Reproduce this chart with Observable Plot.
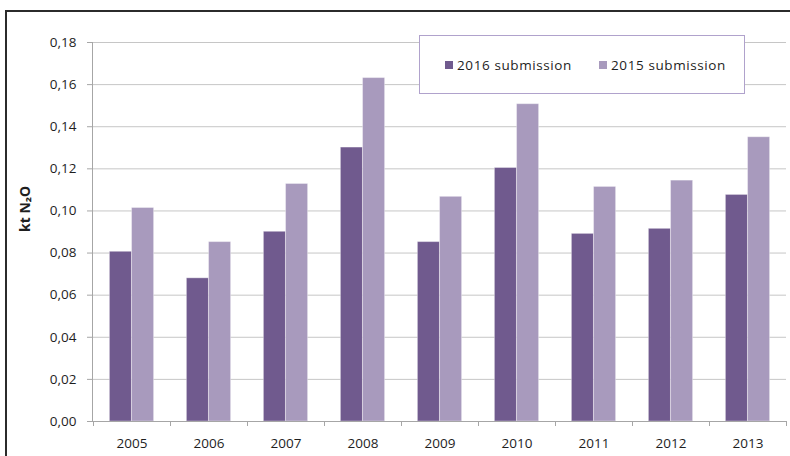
<!DOCTYPE html>
<html>
<head>
<meta charset="utf-8">
<script src="https://cdn.jsdelivr.net/npm/d3@7"></script>
<script src="https://cdn.jsdelivr.net/npm/@observablehq/plot@0.6"></script>
<style>
  html, body { margin: 0; padding: 0; background: #fff; }
  #wrap { position: relative; width: 790px; height: 456px; overflow: hidden; font-family: "Open Sans", sans-serif; }
  #border { position: absolute; left: 5px; top: 10px; width: 800px; height: 460px; border-left: 2px solid #2b2b2b; border-top: 2px solid #2b2b2b; pointer-events: none; }
  #legend { position: absolute; left: 419px; top: 35px; width: 326px; height: 59px; border: 1px solid #b0a2cc; background: #fff; box-sizing: border-box; }
  .item { position: absolute; top: 20px; font-size: 13.5px; font-weight: 500; letter-spacing: 0.6px; color: #1e1e1e; white-space: nowrap; line-height: 18px; }
  .sw { display: inline-block; width: 8px; height: 8px; margin-right: 4px; vertical-align: 1px; }
</style>
</head>
<body>
<div id="wrap">
  <div id="chart"></div>
  <div id="border"></div>
  <div id="legend"></div>
</div>
<script>
const years = ["2005","2006","2007","2008","2009","2010","2011","2012","2013"];
const seriesNames = ["2016 submission", "2015 submission"];
const values2016 = [0.0806, 0.0680, 0.0901, 0.1301, 0.0852, 0.1204, 0.0891, 0.0915, 0.1076];
const values2015 = [0.1014, 0.0852, 0.1128, 0.1631, 0.1067, 0.1507, 0.1114, 0.1144, 0.1350];
const yTicks = [0, 0.02, 0.04, 0.06, 0.08, 0.10, 0.12, 0.14, 0.16, 0.18];
const yLabel = "kt N₂O";
const colors = ["#705a8e", "#a89abd"];

const data2016 = years.map((y, i) => ({year: y, value: values2016[i]}));
const data2015 = years.map((y, i) => ({year: y, value: values2015[i]}));

const fmt = d => d.toFixed(2).replace(".", ",");
const fontFamily = "'Open Sans', sans-serif";

// group geometry within each category band (pixel style)
const gapHalf = 16.4;   // half of the gap between groups
const halfBand = 38.55; // half the category step

const boundaryTicks = (index, scales, values, dimensions) => {
  const x = scales.x;
  const bw = x.bandwidth();
  const y0 = dimensions.height - dimensions.marginBottom;
  const g = d3.create("svg:g");
  const xs = years.map(d => x(d)).concat([x(years[years.length - 1]) + bw]);
  g.selectAll("line").data(xs).join("line")
    .attr("x1", d => d + 0.5).attr("x2", d => d + 0.5)
    .attr("y1", y0).attr("y2", y0 + 5)
    .attr("stroke", "#a6a6a6");
  return g.node();
};

const chart = Plot.plot({
  width: 790,
  height: 456,
  marginLeft: 92,
  marginRight: 4,
  marginTop: 42,
  marginBottom: 35,
  style: {fontFamily, background: "transparent"},
  x: {domain: years, padding: 0},
  y: {domain: [0, 0.18]},
  marks: [
    Plot.gridY(yTicks, {stroke: "#c6c6c6", strokeOpacity: 1}),
    Plot.barY(data2016, {x: "year", y: "value", fill: colors[0], insetLeft: gapHalf, insetRight: halfBand, stroke: "#ffffff", strokeOpacity: 0.35, strokeWidth: 1}),
    Plot.barY(data2015, {x: "year", y: "value", fill: colors[1], insetLeft: halfBand, insetRight: gapHalf, stroke: "#ffffff", strokeOpacity: 0.35, strokeWidth: 1}),
    Plot.ruleY([0], {stroke: "#a6a6a6"}),
    Plot.frame({anchor: "left", stroke: "#a6a6a6"}),
    Plot.axisY(yTicks, {tickFormat: fmt, tickSize: 5, tickPadding: 11, stroke: "#a6a6a6", fill: "#1e1e1e", fontSize: 13.5, fontWeight: 500, label: null, style: {letterSpacing: "0.6px"}}),
    Plot.axisX({tickSize: 0, tickPadding: 17, fill: "#1e1e1e", fontSize: 13.5, fontWeight: 500, label: null, style: {letterSpacing: "0.6px"}}),
    boundaryTicks,
    Plot.text([yLabel], {text: d => d, frameAnchor: "left", rotate: -90, dx: -67, fontWeight: "bold", fontSize: 14, fill: "#1e1e1e"})
  ]
});
document.getElementById("chart").appendChild(chart);

const legend = d3.select("#legend");
const legendX = [25, 179];
seriesNames.forEach((name, i) => {
  const item = legend.append("div").attr("class", "item").style("left", legendX[i] + "px");
  item.append("span").attr("class", "sw").style("background", colors[i]);
  item.append("span").text(name);
});
</script>
</body>
</html>
